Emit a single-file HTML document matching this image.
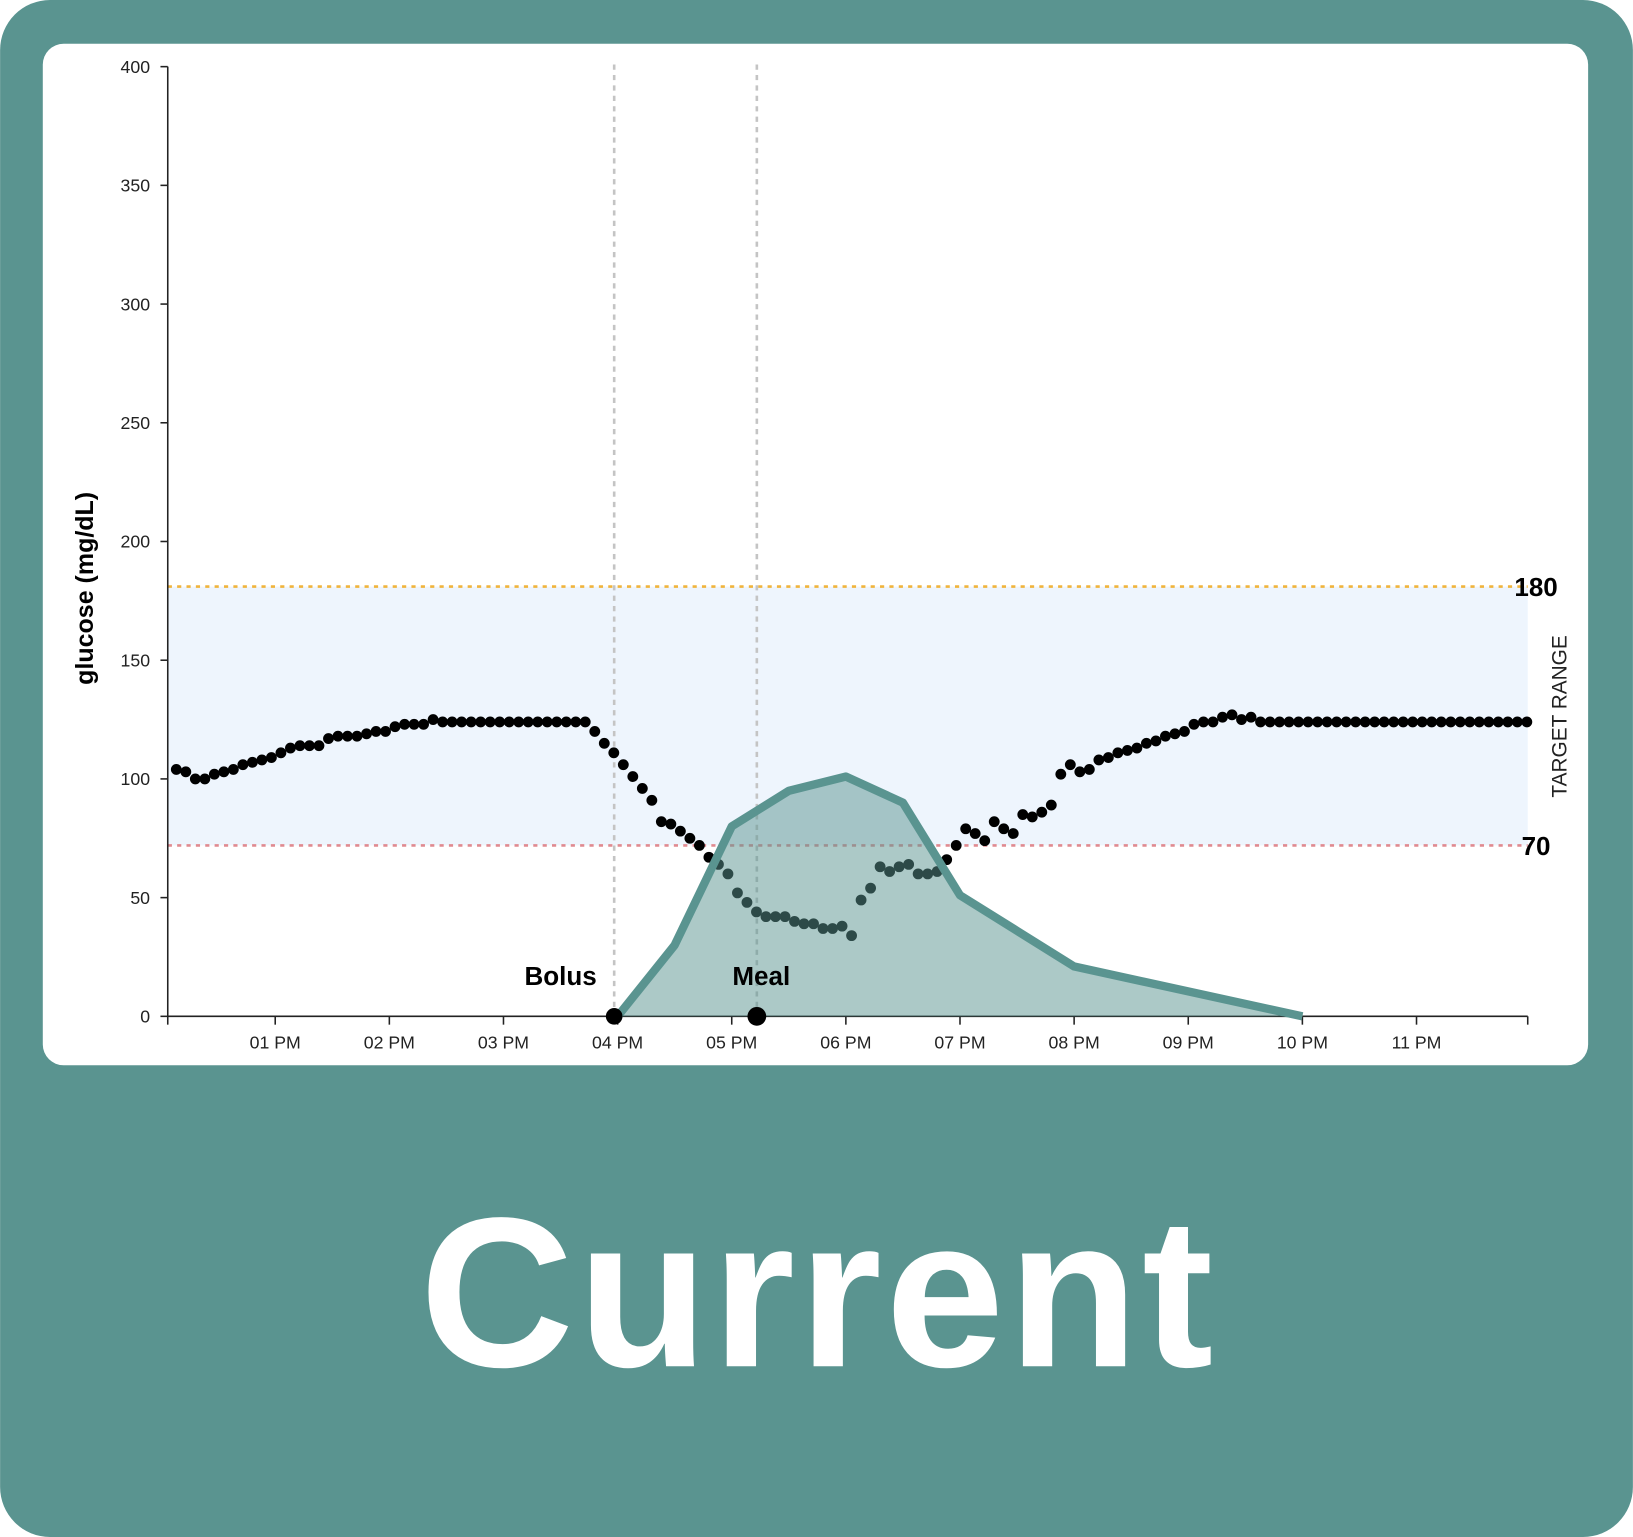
<!DOCTYPE html>
<html><head><meta charset="utf-8"><style>
html,body{margin:0;padding:0;background:#ffffff;}
svg{display:block;font-family:"Liberation Sans",Arial,sans-serif;}
</style></head><body>
<svg id="chart" width="1633" height="1537" viewBox="0 0 1568 1476" xmlns="http://www.w3.org/2000/svg">
<rect x="0" y="0" width="1568" height="1476" rx="48" fill="#5a9490"/>
<rect x="41" y="42" width="1484" height="981" rx="20" fill="#ffffff"/>
<g id="plot"></g>
<text x="784" y="1312" text-anchor="middle" font-size="205" font-weight="bold" fill="#ffffff" textLength="762" lengthAdjust="spacing">Current</text>
</svg>
<script>
const yTicks = [0,50,100,150,200,250,300,350,400];
const xTickHours = [13,14,15,16,17,18,19,20,21,22,23];
const xTickLabels = ["01 PM","02 PM","03 PM","04 PM","05 PM","06 PM","07 PM","08 PM","09 PM","10 PM","11 PM"];
const glucoseStart = 12 + 8/60;
const glucoseValues = [104,103,100,100,102,103,104,106,107,108,109,
111,113,114,114,114,117,118,118,118,119,120,120,
122,123,123,123,125,124,124,124,124,124,124,124,
124,124,124,124,124,124,124,124,124,120,115,
111,106,101,96,91,82,81,78,75,72,67,64,
60,52,48,44,42,42,42,40,39,39,37,37,
38,34,49,54,63,61,63,64,60,60,61,66,
72,79,77,74,82,79,77,85,84,86,89,102,
106,103,104,108,109,111,112,113,115,116,118,119,
120,123,124,124,126,127,125,126,124,124,124,124,
124,124,124,124,124,124,124,124,124,124,124,124,
124,124,124,124,124,124,124,124,124,124,124,124,124];
const insulinHours = [16,16.5,17,17.5,18,18.5,19,19.5,20,22];
const insulinValues = [0,30,80,95,101,90,51,36,21,0];
const targetLow = 72, targetHigh = 181;
const targetLabels = ["180","70"];
const bolusHour = 15.97, mealHour = 17.22;

const NS="http://www.w3.org/2000/svg";
const g=document.getElementById('plot');
const X0=161,X1=1467;
function x(h){return 593+(h-16)*109.6;}
function y(v){return 976-v*2.28;}
function mk(t,a){const e=document.createElementNS(NS,t);for(const k in a)e.setAttribute(k,a[k]);g.appendChild(e);return e;}

let e;
e=mk('rect',{x:X0,y:y(targetHigh),width:X1-X0,height:y(targetLow)-y(targetHigh),fill:'#eef5fd'});


e=mk('line',{x1:X0,x2:X1,y1:y(targetHigh),y2:y(targetHigh),stroke:'#f0b43c','stroke-width':2.5,'stroke-dasharray':'4 5'});


e=mk('line',{x1:X0,x2:X1,y1:y(targetLow),y2:y(targetLow),stroke:'#e08a90','stroke-width':2.5,'stroke-dasharray':'4 5'});


[bolusHour,mealHour].forEach((h,i)=>{
  e=mk('line',{x1:x(h),x2:x(h),y1:62,y2:976,stroke:'#c4c4c4','stroke-width':2.5,'stroke-dasharray':'5 5'});
  
  
});
e=mk('line',{x1:X0,x2:X0,y1:y(400),y2:976,stroke:'#222','stroke-width':1.5});


e=mk('line',{x1:X0,x2:X1,y1:976,y2:976,stroke:'#222','stroke-width':1.5});


mk('line',{x1:X0,x2:X0,y1:976,y2:984,stroke:'#222','stroke-width':1.5});
mk('line',{x1:X1,x2:X1,y1:976,y2:984,stroke:'#222','stroke-width':1.5});
yTicks.forEach(v=>{
  mk('line',{x1:X0-7,x2:X0,y1:y(v),y2:y(v),stroke:'#222','stroke-width':1.5});
  e=mk('text',{x:X0-17,y:y(v)+6,'text-anchor':'end','font-size':17,fill:'#222'});
  e.textContent=v;
  
  
});
xTickHours.forEach((h,i)=>{
  mk('line',{x1:x(h),x2:x(h),y1:976,y2:984,stroke:'#222','stroke-width':1.5});
  e=mk('text',{x:x(h),y:1007,'text-anchor':'middle','font-size':17,fill:'#222'});
  e.textContent=xTickLabels[i];
  
  
});
glucoseValues.forEach((v,i)=>{
  e=mk('circle',{cx:x(glucoseStart+i*5/60),cy:y(v),r:5.2,fill:'#000'});
  
  
});
let pts=insulinHours.map((h,i)=>x(h)+','+y(insulinValues[i]));
e=mk('polygon',{points:pts.join(' ')+' '+x(insulinHours[insulinHours.length-1])+',976 '+x(insulinHours[0])+',976',fill:'#5a9490','fill-opacity':0.5});


e=mk('polyline',{points:pts.join(' '),fill:'none',stroke:'#5a9490','stroke-width':8,'stroke-linejoin':'round'});


e=mk('circle',{cx:x(bolusHour),cy:976,r:8,fill:'#000'});


e=mk('circle',{cx:x(mealHour),cy:976,r:9,fill:'#000'});


e=mk('text',{x:573,y:946,'text-anchor':'end','font-size':25,'font-weight':'bold',fill:'#000'});
e.textContent='Bolus';


e=mk('text',{x:731,y:946,'text-anchor':'middle','font-size':25,'font-weight':'bold',fill:'#000'});
e.textContent='Meal';


e=mk('text',{x:1475,y:y(targetHigh)+9,'text-anchor':'middle','font-size':25,'font-weight':'bold',fill:'#000'});
e.textContent=targetLabels[0];


e=mk('text',{x:1475,y:y(targetLow)+9,'text-anchor':'middle','font-size':25,'font-weight':'bold',fill:'#000'});
e.textContent=targetLabels[1];


e=mk('text',{x:0,y:0,'text-anchor':'middle','font-size':20,fill:'#222',transform:'translate(1504,688) rotate(-90)'});
e.textContent='TARGET RANGE';


e=mk('text',{x:0,y:0,'text-anchor':'middle','font-size':24,'font-weight':'bold',fill:'#000',transform:'translate(89,565) rotate(-90)'});
e.textContent='glucose (mg/dL)';


</script>
</body></html>
